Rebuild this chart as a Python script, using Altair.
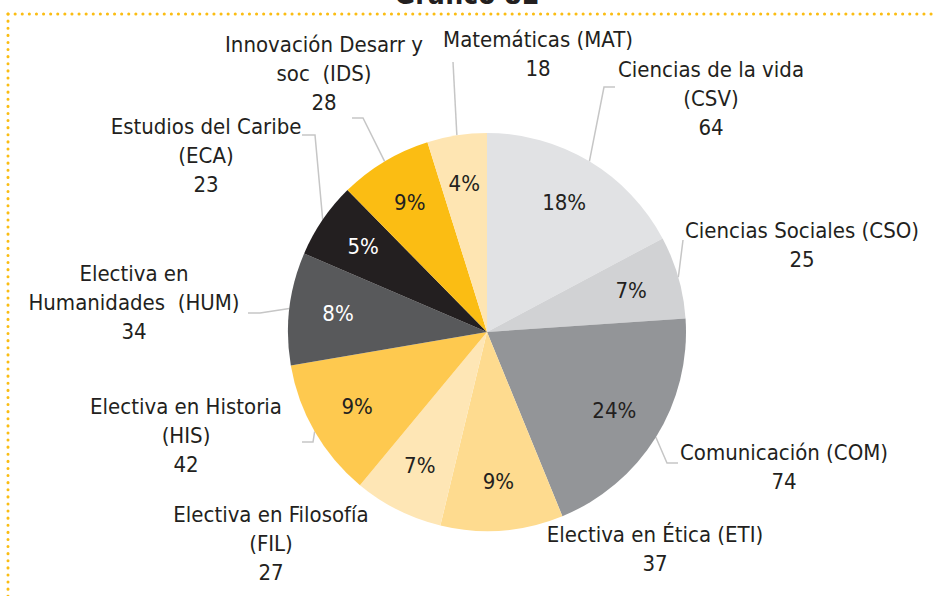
import altair as alt
import pandas as pd
import numpy as np

# ---------------- data ----------------
codes = ["CSV", "CSO", "COM", "ETI", "FIL", "HIS", "HUM", "ECA", "IDS", "MAT"]
names = [
    "Ciencias de la vida\n(CSV)",
    "Ciencias Sociales (CSO)",
    "Comunicación (COM)",
    "Electiva en Ética (ETI)",
    "Electiva en Filosofía\n(FIL)",
    "Electiva en Historia\n(HIS)",
    "Electiva en\nHumanidades\u00a0 (HUM)",
    "Estudios del Caribe\n(ECA)",
    "Innovación Desarr y\nsoc\u00a0 (IDS)",
    "Matemáticas (MAT)",
]
counts = [64, 25, 74, 37, 27, 42, 34, 23, 28, 18]
pct_labels = ["18%", "7%", "24%", "9%", "7%", "9%", "8%", "5%", "9%", "4%"]

# ---------------- styles / layout ----------------
colors = ["#e1e2e4", "#d1d2d4", "#939598", "#fedb8f", "#fee6b5",
          "#fec94f", "#58595b", "#231f20", "#fbbd13", "#fee5b2"]
pct_text_colors = ["#231f20"] * 6 + ["#ffffff", "#ffffff"] + ["#231f20"] * 2
FONT = "DejaVu Sans Condensed, Liberation Sans Narrow, Roboto, sans-serif"
FS = 22
TXT = "#231f20"
CX, CY, R = 487, 332, 199
W, H = 933, 596

# outer label positions (centre x, first-line y), pixels
label_x = [711, 802, 784, 655, 271, 186, 134, 206, 324, 538]
label_y = [70, 231, 453, 535, 515, 407, 274, 127, 45, 40]
# leader line bends after the slice edge (pixels); empty = no leader
leader_bends = [
    [(604, 87), (615, 87)],
    [(683, 240)],
    [(667, 463), (678, 463)],
    [],
    [],
    [(313, 442), (302, 442)],
    [(260, 313), (248, 313)],
    [(315, 135), (302, 135)],
    [(363, 118), (352, 118)],
    [(453, 62)],
]

df = pd.DataFrame({
    "idx": list(range(len(codes))),
    "code": codes,
    "count": counts,
    "pct": pct_labels,
    "pct_color": pct_text_colors,
})

lab_df = pd.DataFrame({
    "code": codes,
    "label": [n + "\n" + str(c) for n, c in zip(names, counts)],
    "lx": label_x,
    "ly": label_y,
})

# leader start points from the slice mid angles (derived from counts)
tot = float(sum(counts))
cum = np.cumsum([0] + counts)
rows = []
for i, code in enumerate(codes):
    if not leader_bends[i]:
        continue
    mid = (cum[i] + counts[i] / 2.0) / tot * 2 * np.pi
    sx = CX + R * np.sin(mid)
    sy = CY - R * np.cos(mid)
    pts = [(sx, sy)] + leader_bends[i]
    for k, (px, py) in enumerate(pts):
        rows.append({"code": code, "k": k, "x": px, "y": py})
lead_df = pd.DataFrame(rows)

one = pd.DataFrame({"a": [0]})

# ---------------- marks ----------------
arc = alt.Chart(df).mark_arc(radius=R, stroke=None).encode(
    theta=alt.Theta("count:Q", stack=True),
    color=alt.Color("code:N", scale=alt.Scale(domain=codes, range=colors), legend=None),
    order=alt.Order("idx:Q"),
    x=alt.value(CX),
    y=alt.value(CY),
)

pct = alt.Chart(df).mark_text(
    radius=150, font=FONT, fontSize=FS, align="center", baseline="middle"
).encode(
    theta=alt.Theta("count:Q", stack=True),
    order=alt.Order("idx:Q"),
    text="pct:N",
    color=alt.Color("pct_color:N", scale=None),
    x=alt.value(CX),
    y=alt.value(CY),
)

leaders = alt.Chart(lead_df).mark_line(color="#c6c6c6", strokeWidth=1.5).encode(
    x=alt.X("x:Q", scale=None, axis=None),
    y=alt.Y("y:Q", scale=None, axis=None),
    detail="code:N",
    order="k:Q",
)

labels = alt.Chart(lab_df).mark_text(
    font=FONT, fontSize=FS, lineBreak="\n", lineHeight=29,
    align="center", baseline="middle", color=TXT
).encode(
    x=alt.X("lx:Q", scale=None, axis=None),
    y=alt.Y("ly:Q", scale=None, axis=None),
    text="label:N",
)

title = alt.Chart(one).mark_text(
    font=FONT, fontSize=28, fontWeight="bold", color=TXT,
    align="center", baseline="alphabetic"
).encode(x=alt.value(467), y=alt.value(4), text=alt.value("Gráfico 82"))

border_top = alt.Chart(one).mark_rule(
    color="#fbbd13", strokeWidth=3, strokeDash=[0.1, 7], strokeCap="round"
).encode(x=alt.value(8), x2=alt.value(980), y=alt.value(14))

border_left = alt.Chart(one).mark_rule(
    color="#fbbd13", strokeWidth=3, strokeDash=[0.1, 7], strokeCap="round"
).encode(x=alt.value(8), y=alt.value(14), y2=alt.value(640))

chart = alt.layer(
    border_top, border_left, title, leaders, arc, pct, labels
).properties(
    width=W, height=H, padding=0,
    autosize=alt.AutoSizeParams(type="none"),
    background="white",
).configure_view(stroke=None)

chart.save("out.html", embed_options={"renderer": "svg", "actions": False})
